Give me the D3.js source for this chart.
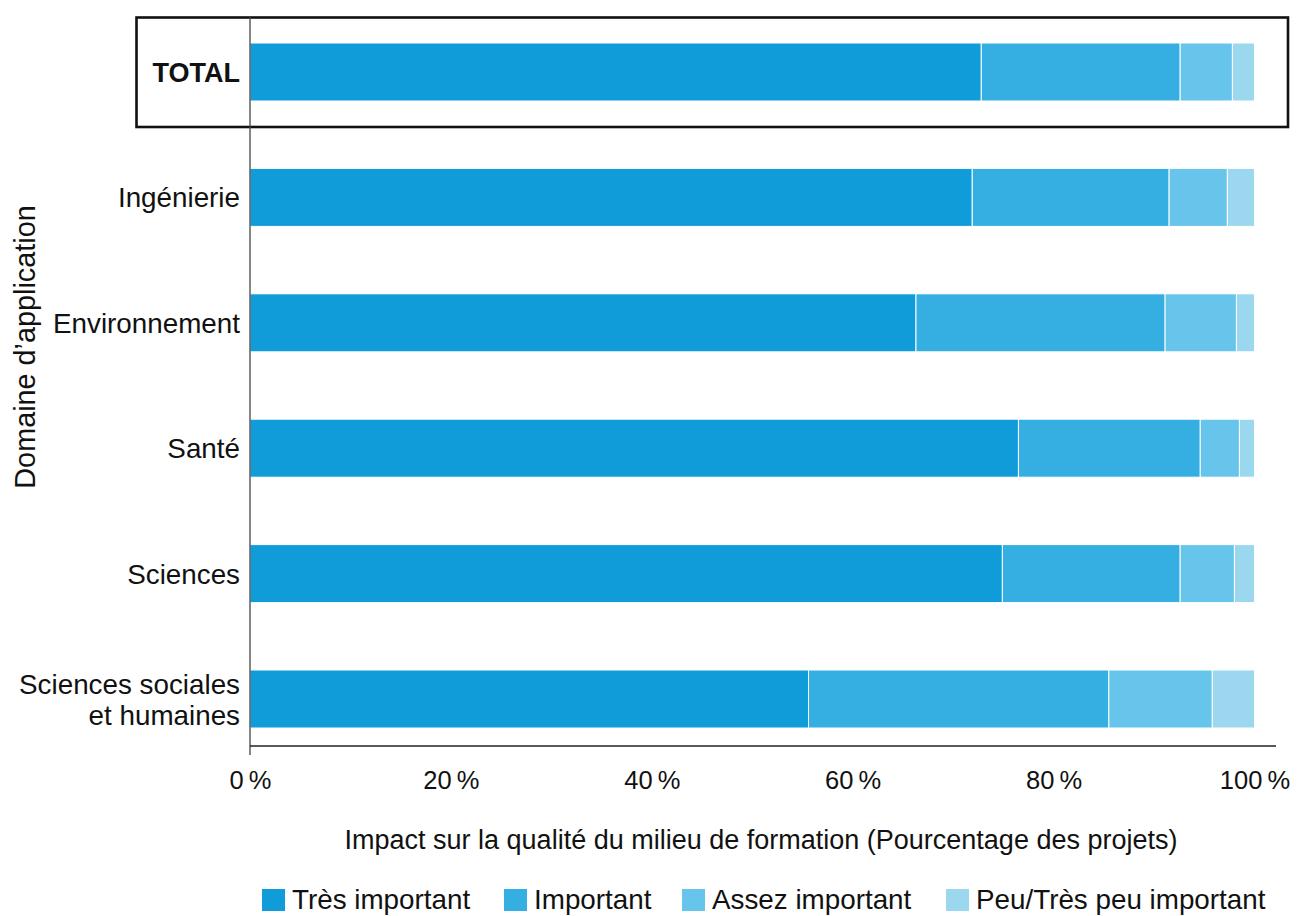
<!DOCTYPE html>
<html>
<head>
<meta charset="utf-8">
<script src="https://cdn.jsdelivr.net/npm/d3@7"></script>
<style>
  body { margin: 0; background: #fff; }
  svg { display: block; font-family: "Liberation Sans", Arial, sans-serif; }
</style>
</head>
<body>
<svg id="chart" width="1301" height="916"></svg>
<script>
const categories = ["TOTAL", "Ingénierie", "Environnement", "Santé", "Sciences", "Sciences sociales\net humaines"];
const seriesNames = ["Très important", "Important", "Assez important", "Peu/Très peu important"];
const tresImportant = [72.8, 71.9, 66.3, 76.5, 74.9, 55.6];
const important     = [19.8, 19.6, 24.8, 18.1, 17.7, 29.9];
const assezImportant= [5.2, 5.8, 7.1, 3.9, 5.4, 10.3];
const peuImportant  = [2.2, 2.7, 1.8, 1.5, 2.0, 4.2];
const tickValues = [0, 20, 40, 60, 80, 100];
const colors = ["#0f9cd8", "#35afe2", "#67c4ea", "#9bd8f0"];

const rows = categories.map((c, i) => ({
  cat: c,
  "Très important": tresImportant[i],
  "Important": important[i],
  "Assez important": assezImportant[i],
  "Peu/Très peu important": peuImportant[i]
}));

const svg = d3.select("#chart");
const x = d3.scaleLinear().domain([0, 100]).range([250, 1254.5]);
const y = d3.scaleBand().domain(categories).range([9.3, 761.7]).paddingInner(0.5375).paddingOuter(0.5375 / 2);
const color = d3.scaleOrdinal().domain(seriesNames).range(colors);

const stack = d3.stack().keys(seriesNames)(rows);

svg.append("g").selectAll("g").data(stack).join("g")
  .attr("fill", d => color(d.key))
  .selectAll("rect").data(d => d).join("rect")
  .attr("x", d => x(d[0]))
  .attr("y", d => y(d.data.cat))
  .attr("width", d => x(d[1]) - x(d[0]))
  .attr("height", y.bandwidth())
  .attr("stroke", "#fff")
  .attr("stroke-width", 1);

// TOTAL box
svg.append("rect")
  .attr("x", 136.5).attr("y", 17.5)
  .attr("width", 1288 - 136.5).attr("height", 127 - 17.5)
  .attr("fill", "none").attr("stroke", "#111").attr("stroke-width", 2.6);

// y axis line
svg.append("line").attr("x1", 250).attr("x2", 250).attr("y1", 17).attr("y2", 755)
  .attr("stroke", "#444").attr("stroke-width", 1.3);

// x axis
const xAxis = d3.axisBottom(x).tickValues(tickValues).tickSize(0).tickFormat(d => d + "\u2009%");
const gx = svg.append("g").attr("transform", "translate(0,746)").call(xAxis);
gx.select(".domain").attr("d", "M250,0H1276").attr("stroke", "#222").attr("stroke-width", 1.5);
gx.selectAll(".tick text").attr("font-size", 25.5).attr("fill", "#111").attr("dy", 0).attr("y", 43)
  .attr("font-family", "'Liberation Sans', Arial, sans-serif");

// y labels
const yl = svg.append("g");
categories.forEach(c => {
  const cy = y(c) + y.bandwidth() / 2;
  const lines = c.split("\n");
  const t = yl.append("text")
    .attr("x", 240).attr("text-anchor", "end")
    .attr("font-size", c === "TOTAL" ? 27 : 27.8)
    .attr("font-weight", c === "TOTAL" ? "bold" : "normal")
    .attr("fill", "#111");
  lines.forEach((ln, j) => {
    t.append("tspan").attr("x", 240)
      .attr("y", cy + 10 + (j - (lines.length - 1) / 2) * 31)
      .text(ln);
  });
});

// axis titles
svg.append("text").attr("x", 761).attr("y", 849).attr("text-anchor", "middle")
  .attr("font-size", 27).attr("fill", "#111")
  .text("Impact sur la qualité du milieu de formation (Pourcentage des projets)");
svg.append("text").attr("transform", "translate(35,347) rotate(-90)").attr("text-anchor", "middle")
  .attr("font-size", 28.8).attr("fill", "#111").text("Domaine d\u2019application");

// legend
const legendX = [262, 504, 682, 946];
const lg = svg.append("g");
seriesNames.forEach((s, i) => {
  lg.append("rect").attr("x", legendX[i]).attr("y", 889).attr("width", 23).attr("height", 22).attr("fill", color(s));
  lg.append("text").attr("x", legendX[i] + 30).attr("y", 909).attr("font-size", 27.8).attr("fill", "#111").text(s);
});
</script>
</body>
</html>
